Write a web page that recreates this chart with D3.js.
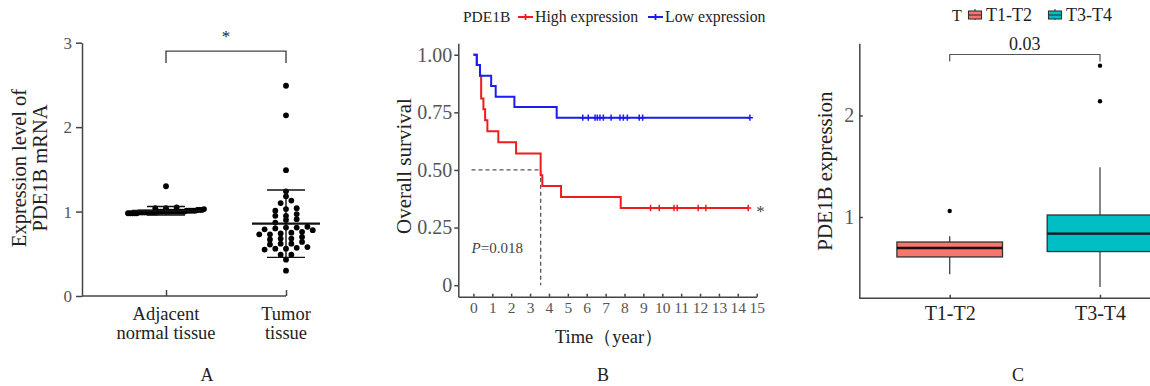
<!DOCTYPE html>
<html>
<head>
<meta charset="utf-8">
<script src="https://cdn.jsdelivr.net/npm/d3@7"></script>
<style>
  body { margin: 0; background: #fff; }
  svg text { font-family: "Liberation Serif", "Tinos", "Times New Roman", "DejaVu Serif", "Noto Serif", serif; }
</style>
</head>
<body>
<svg id="chart" width="1150" height="386"></svg>
<script>
// ---- panel A data ----
const groupsA = ["Adjacent normal tissue", "Tumor tissue"];
const groupLabelLines = [["Adjacent", "normal tissue"], ["Tumor", "tissue"]];
const yTicksA = [0, 1, 2, 3];
const adjacentValues = [1.30, 1.05, 1.04, 1.04, 1.03, 1.02, 1.02, 1.02, 1.01, 1.01, 1.01, 1.01,
  1.00, 1.00, 1.00, 1.00, 1.00, 1.00, 1.00, 1.00, 1.00, 1.00, 0.99, 0.99, 0.99, 0.99, 0.99,
  0.99, 0.99, 0.98, 0.98, 0.98, 0.98, 0.98, 0.99, 1.00, 1.00, 1.01, 0.99, 1.00];
const tumorValues = [2.49, 2.14, 1.49, 1.24, 1.18, 1.10, 1.13, 1.04, 1.03, 0.97, 1.01, 0.95,
  0.90, 0.95, 0.91, 0.87, 0.79, 0.82, 0.81, 0.78, 0.81, 0.80, 0.76, 0.73, 0.74, 0.73, 0.75,
  0.68, 0.67, 0.68, 0.70, 0.64, 0.62, 0.58, 0.62, 0.61, 0.57, 0.56, 0.56, 0.55, 0.49, 0.49,
  0.43, 0.30];

// ---- panel B data (Kaplan-Meier) ----
const highTimes = [0, 0.18, 0.35, 0.41, 0.53, 0.62, 0.74, 1.32, 2.26, 3.56, 3.65, 4.64, 7.8];
const highSurv = [1.0, 0.955, 0.909, 0.81, 0.763, 0.716, 0.668, 0.62, 0.571, 0.477, 0.43, 0.383, 0.335];
const highCensor = [9.38, 9.84, 10.62, 10.79, 11.9, 12.31, 14.55];
const lowTimes = [0, 0.18, 0.35, 0.94, 1.18, 2.17, 4.41];
const lowSurv = [1.0, 0.955, 0.909, 0.864, 0.818, 0.773, 0.727];
const lowCensor = [5.79, 6.08, 6.44, 6.56, 6.70, 6.88, 7.29, 7.76, 7.94, 8.15, 8.78, 8.96, 14.64];
const yearTicks = d3.range(0, 16);
const survTicks = [0, 0.25, 0.5, 0.75, 1];

// ---- panel C data (box plot summaries) ----
const stages = ["T1-T2", "T3-T4"];
const boxWhiskLo = [0.437, 0.31];
const boxQ1 = [0.607, 0.66];
const boxMedian = [0.695, 0.837];
const boxQ3 = [0.754, 1.02];
const boxWhiskHi = [0.81, 1.49];
const boxOutliers = [[1.06], [2.49, 2.14]];
const boxColors = ["#F8766D", "#00BFC4"];
const yTicksC = [1, 2];

const serifStack = '"Liberation Serif", "Tinos", "Times New Roman", "DejaVu Serif", "Noto Serif", serif';
const svg = d3.select("#chart").attr("font-family", serifStack);
const axisColor = "#444";
const tickTextColor = "#555";
const textColor = "#222";

function styleAxis(g, size) {
  g.attr("font-family", serifStack);
  g.select(".domain").attr("stroke", axisColor).attr("stroke-width", 1.5);
  g.selectAll(".tick line").attr("stroke", axisColor).attr("stroke-width", 1.5);
  g.selectAll(".tick text").attr("fill", tickTextColor).attr("font-size", size);
}

// simple GraphPad-like scatter: dots in the same value bin spread sideways
function swarm(values, step, maxHalf, binH) {
  const sorted = values.slice().sort(d3.ascending);
  const bins = [];
  let cur = null;
  sorted.forEach(v => {
    if (!cur || v - cur.start > binH) { cur = { start: v, vals: [] }; bins.push(cur); }
    cur.vals.push(v);
  });
  const out = [];
  bins.forEach(b => {
    const n = b.vals.length;
    const sp = n > 1 ? Math.min(step, 2 * maxHalf / (n - 1)) : 0;
    b.vals.forEach((v, i) => out.push({ v: v, dx: (i - (n - 1) / 2) * sp }));
  });
  return out;
}

// ================= Panel A =================
const gA = svg.append("g");
const yA = d3.scaleLinear().domain([0, 3]).range([296, 42.7]);
const xA = d3.scalePoint().domain(groupsA).range([166, 286]);
const axisXA = 82;

gA.append("g")
  .attr("transform", `translate(${axisXA},0)`)
  .call(d3.axisLeft(yA).tickValues(yTicksA).tickFormat(d3.format("d")).tickSize(6).tickSizeOuter(0).tickPadding(4))
  .call(g => styleAxis(g, 17));

gA.append("line")
  .attr("x1", axisXA).attr("x2", xA(groupsA[1]))
  .attr("y1", yA(0)).attr("y2", yA(0))
  .attr("stroke", axisColor).attr("stroke-width", 1.5);

gA.append("g")
  .attr("transform", `translate(0,${yA(0)})`)
  .call(d3.axisBottom(xA).tickSizeInner(-6).tickSizeOuter(0).tickFormat(""))
  .call(g => { styleAxis(g, 17); g.select(".domain").remove(); });

groupsA.forEach((grp, i) => {
  const t = gA.append("text")
    .attr("text-anchor", "middle")
    .attr("fill", textColor)
    .attr("font-size", 18.5);
  groupLabelLines[i].forEach((ln, j) => {
    t.append("tspan").attr("x", xA(grp)).attr("y", 320 + j * 19).text(ln);
  });
});

gA.append("text")
  .attr("transform", "translate(26,168) rotate(-90)")
  .attr("text-anchor", "middle").attr("fill", textColor).attr("font-size", 20.5)
  .text("Expression level of");
gA.append("text")
  .attr("transform", "translate(46.5,168) rotate(-90)")
  .attr("text-anchor", "middle").attr("fill", textColor).attr("font-size", 20.5)
  .text("PDE1B mRNA");

[adjacentValues, tumorValues].forEach((vals, i) => {
  const cx = xA(groupsA[i]);
  const pts = swarm(vals, 10.7, 38, 0.055);
  gA.append("g").selectAll("circle")
    .data(pts).join("circle")
    .attr("cx", d => cx + d.dx)
    .attr("cy", d => yA(d.v))
    .attr("r", 2.9)
    .attr("fill", "#000");

  const m = d3.mean(vals), sd = d3.deviation(vals);
  const eg = gA.append("g").attr("stroke", "#111");
  eg.append("line").attr("x1", cx - 34).attr("x2", cx + 34)
    .attr("y1", yA(m)).attr("y2", yA(m)).attr("stroke-width", 2.2);
  eg.append("line").attr("x1", cx).attr("x2", cx)
    .attr("y1", yA(m - sd)).attr("y2", yA(m + sd)).attr("stroke-width", 1.4);
  [m - sd, m + sd].forEach(v => {
    eg.append("line").attr("x1", cx - 19).attr("x2", cx + 19)
      .attr("y1", yA(v)).attr("y2", yA(v)).attr("stroke-width", 1.4);
  });
});

// significance bracket
gA.append("path")
  .attr("d", `M${xA(groupsA[0])},${yA(2.76)}V${yA(2.9)}H${xA(groupsA[1])}V${yA(2.76)}`)
  .attr("fill", "none").attr("stroke", axisColor).attr("stroke-width", 1.4);
gA.append("text")
  .attr("x", (xA(groupsA[0]) + xA(groupsA[1])) / 2).attr("y", yA(2.9) - 9)
  .attr("text-anchor", "middle").attr("fill", textColor).attr("font-size", 17)
  .text("*");

gA.append("text").attr("x", 207).attr("y", 381)
  .attr("text-anchor", "middle").attr("fill", textColor).attr("font-size", 18).text("A");

// ================= Panel B =================
const gB = svg.append("g");
const xB = d3.scaleLinear().domain([-0.8, 15]).range([458.3, 756.7]);
const yB = d3.scaleLinear().domain([-0.05, 1.05]).range([296.7, 43.2]);

gB.append("g")
  .attr("transform", `translate(${xB(-0.8)},0)`)
  .call(d3.axisLeft(yB).tickValues(survTicks)
    .tickFormat(d => d === 0 ? "0" : d3.format(".2f")(d))
    .tickSize(4).tickSizeOuter(0).tickPadding(2))
  .call(g => styleAxis(g, 20));

gB.append("g")
  .attr("transform", `translate(0,${yB(-0.05)})`)
  .call(d3.axisBottom(xB).tickValues(yearTicks).tickSizeInner(-3).tickSizeOuter(0).tickPadding(5))
  .call(g => styleAxis(g, 15.5));

gB.append("text")
  .attr("transform", "translate(411,166) rotate(-90)")
  .attr("text-anchor", "middle").attr("fill", textColor).attr("font-size", 21)
  .text("Overall survival");
gB.append("text").attr("x", 609).attr("y", 343)
  .attr("text-anchor", "middle").attr("fill", textColor).attr("font-size", 18.5)
  .text("Time（year）");
gB.append("text").attr("x", 603).attr("y", 381)
  .attr("text-anchor", "middle").attr("fill", textColor).attr("font-size", 18).text("B");

const kmLine = d3.line().curve(d3.curveStepAfter).x(d => xB(d[0])).y(d => yB(d[1]));
function survAt(times, surv, t) {
  return surv[d3.bisectRight(times, t) - 1];
}
const curves = [
  { times: highTimes, surv: highSurv, censor: highCensor, color: "#ee1c1c" },
  { times: lowTimes, surv: lowSurv, censor: lowCensor, color: "#1c1cee" }
];

// median survival guide for high-expression group
const medianT = highTimes[highSurv.findIndex(s => s < 0.5)];
gB.append("path")
  .attr("d", `M${xB(-0.1)},${yB(0.5)}H${xB(medianT)}V${yB(0)}`)
  .attr("fill", "none").attr("stroke", "#555").attr("stroke-width", 1.3)
  .attr("stroke-dasharray", "4,3");

// red first, blue drawn on top where the curves coincide
curves.forEach(c => {
  const last = d3.max(c.censor);
  const pts = c.times.map((t, i) => [t, c.surv[i]]);
  pts.push([last, c.surv[c.surv.length - 1]]);
  gB.append("path").datum(pts)
    .attr("d", kmLine)
    .attr("fill", "none").attr("stroke", c.color).attr("stroke-width", 2);
  gB.append("g").selectAll("path")
    .data(c.censor).join("path")
    .attr("d", t => {
      const px = xB(t), py = yB(survAt(c.times, c.surv, t));
      return `M${px - 3},${py}H${px + 3}M${px},${py - 3.2}V${py + 3.2}`;
    })
    .attr("stroke", c.color).attr("stroke-width", 1.5);
});

gB.append("text").attr("x", xB(14.6) + 7).attr("y", yB(survAt(highTimes, highSurv, 14.6)) + 9)
  .attr("fill", "#444").attr("font-size", 17).text("*");

const pText = gB.append("text").attr("x", 471.5).attr("y", 253)
  .attr("fill", "#444").attr("font-size", 15);
pText.append("tspan").attr("font-style", "italic").text("P");
pText.append("tspan").text("=0.018");

// legend
const legB = gB.append("g").attr("transform", "translate(0,22)");
legB.append("text").attr("x", 463).attr("y", 0).attr("fill", textColor).attr("font-size", 15.5).text("PDE1B");
const legItems = [
  { label: "High expression", color: curves[0].color, x: 518 },
  { label: "Low expression", color: curves[1].color, x: 648 }
];
legItems.forEach(it => {
  legB.append("path")
    .attr("d", `M${it.x},-5H${it.x + 15}M${it.x + 7.5},-8V-2`)
    .attr("stroke", it.color).attr("stroke-width", 1.8);
  legB.append("text").attr("x", it.x + 17).attr("y", 0)
    .attr("fill", textColor).attr("font-size", 15.8).text(it.label);
});

// ================= Panel C =================
const gC = svg.append("g");
const yC = d3.scaleLinear().domain([0.2, 2.71]).range([298.3, 43.3]);
const xC = d3.scalePoint().domain(stages).range([949.7, 1100]);
const axisXC = 859.3;
const boxW = 105.6;

gC.append("g")
  .attr("transform", `translate(${axisXC},0)`)
  .call(d3.axisLeft(yC).tickValues(yTicksC).tickFormat(d3.format("d")).tickSizeInner(-3.5).tickSizeOuter(0).tickPadding(5))
  .call(g => styleAxis(g, 20));

gC.append("line")
  .attr("x1", axisXC).attr("x2", 1160)
  .attr("y1", yC(0.2)).attr("y2", yC(0.2))
  .attr("stroke", axisColor).attr("stroke-width", 1.5);
gC.append("g")
  .attr("transform", `translate(0,${yC(0.2)})`)
  .call(d3.axisBottom(xC).tickSizeInner(-3.5).tickSizeOuter(0).tickPadding(8))
  .call(g => { styleAxis(g, 20); g.select(".domain").remove(); g.selectAll(".tick text").attr("fill", textColor); });

gC.append("text")
  .attr("transform", "translate(831.5,171) rotate(-90)")
  .attr("text-anchor", "middle").attr("fill", textColor).attr("font-size", 21)
  .text("PDE1B expression");
gC.append("text").attr("x", 1018).attr("y", 381)
  .attr("text-anchor", "middle").attr("fill", textColor).attr("font-size", 18).text("C");

stages.forEach((s, i) => {
  const cx = xC(s);
  const g = gC.append("g");
  g.append("line").attr("x1", cx).attr("x2", cx)
    .attr("y1", yC(boxWhiskLo[i])).attr("y2", yC(boxQ1[i]))
    .attr("stroke", "#444").attr("stroke-width", 1.3);
  g.append("line").attr("x1", cx).attr("x2", cx)
    .attr("y1", yC(boxQ3[i])).attr("y2", yC(boxWhiskHi[i]))
    .attr("stroke", "#444").attr("stroke-width", 1.3);
  g.append("rect")
    .attr("x", cx - boxW / 2).attr("width", boxW)
    .attr("y", yC(boxQ3[i])).attr("height", yC(boxQ1[i]) - yC(boxQ3[i]))
    .attr("fill", boxColors[i]).attr("stroke", "#333").attr("stroke-width", 1.3);
  g.append("line").attr("x1", cx - boxW / 2).attr("x2", cx + boxW / 2)
    .attr("y1", yC(boxMedian[i])).attr("y2", yC(boxMedian[i]))
    .attr("stroke", "#111").attr("stroke-width", 2.3);
  g.selectAll("circle").data(boxOutliers[i]).join("circle")
    .attr("cx", cx).attr("cy", d => yC(d)).attr("r", 2.2).attr("fill", "#000");
});

// p-value bracket
gC.append("path")
  .attr("d", `M${xC(stages[0])},${yC(2.53)}V${yC(2.6)}H${xC(stages[1])}V${yC(2.53)}`)
  .attr("fill", "none").attr("stroke", "#555").attr("stroke-width", 1.2);
gC.append("text")
  .attr("x", (xC(stages[0]) + xC(stages[1])) / 2).attr("y", yC(2.6) - 4.5)
  .attr("text-anchor", "middle").attr("fill", textColor).attr("font-size", 18).text("0.03");

// legend
const legC = gC.append("g").attr("transform", "translate(0,21)");
legC.append("text").attr("x", 952).attr("y", 0).attr("fill", textColor).attr("font-size", 16).text("T");
const legCx = [968.5, 1048.5];
stages.forEach((s, i) => {
  const x0 = legCx[i];
  const k = legC.append("g").attr("stroke", "#333").attr("stroke-width", 1.1);
  k.append("line").attr("x1", x0 + 6.5).attr("x2", x0 + 6.5).attr("y1", -12).attr("y2", -1);
  k.append("rect").attr("x", x0).attr("y", -10).attr("width", 13).attr("height", 8)
    .attr("fill", boxColors[i]);
  k.append("line").attr("x1", x0).attr("x2", x0 + 13).attr("y1", -6).attr("y2", -6);
  legC.append("text").attr("x", x0 + 17.5).attr("y", 0)
    .attr("fill", textColor).attr("font-size", 18).text(s);
});
</script>
</body>
</html>
